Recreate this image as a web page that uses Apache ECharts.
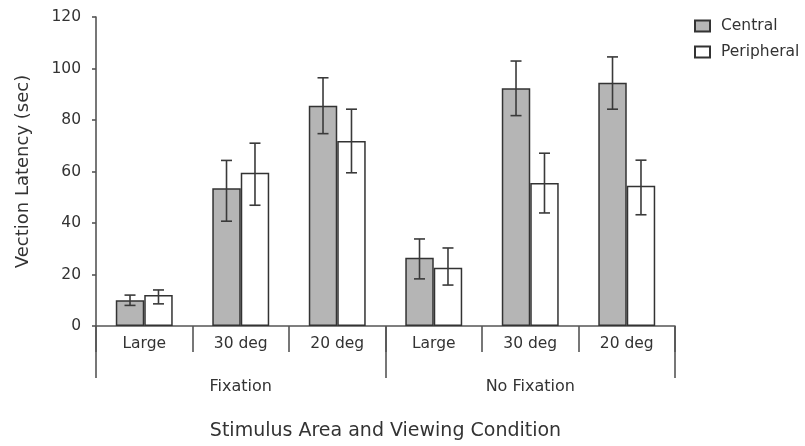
<!DOCTYPE html>
<html>
<head>
<meta charset="utf-8">
<script src="https://cdn.jsdelivr.net/npm/echarts@6/dist/echarts.min.js"></script>
<style>html,body{margin:0;padding:0;background:#fff}#c{width:805px;height:446px}</style>
</head>
<body>
<div id="c"></div>
<script>
const categories = ['Large', '30 deg', '20 deg', 'Large', '30 deg', '20 deg'];
const groups = ['Fixation', 'No Fixation'];
const yTicks = [0, 20, 40, 60, 80, 100, 120];
const centralMean = [10, 53.5, 85.5, 26.5, 92.3, 94.5];
const centralHigh = [12, 64.3, 96.4, 33.8, 102.9, 104.5];
const centralLow = [8, 40.7, 74.7, 18.3, 81.7, 84.2];
const peripheralMean = [12, 59.5, 71.8, 22.6, 55.5, 54.5];
const peripheralHigh = [14, 71, 84.2, 30.3, 67.1, 64.4];
const peripheralLow = [8.6, 46.9, 59.5, 15.9, 43.9, 43.2];

const FONT = 'DejaVu Sans';
const TXT = '#333333';
const BARW = 0.295;

function errData(low, high) {
  return low.map((l, i) => [i, l, high[i]]);
}
function errRender(sign) {
  return function (params, api) {
    const i = api.value(0);
    const lo = api.coord([i, api.value(1)]);
    const hi = api.coord([i, api.value(2)]);
    const off = api.size([1, 0])[0] * BARW / 2 * sign;
    const x = lo[0] + off;
    const cap = 5.5;
    const st = { stroke: '#3a3a3a', lineWidth: 1.6 };
    return {
      type: 'group',
      children: [
        { type: 'line', shape: { x1: x, y1: lo[1], x2: x, y2: hi[1] }, style: st },
        { type: 'line', shape: { x1: x - cap, y1: lo[1], x2: x + cap, y2: lo[1] }, style: st },
        { type: 'line', shape: { x1: x - cap, y1: hi[1], x2: x + cap, y2: hi[1] }, style: st }
      ]
    };
  };
}

const chart = echarts.init(document.getElementById('c'));
chart.setOption({
  animation: false,
  textStyle: { fontFamily: FONT },
  grid: { left: 96, right: 130, top: 17, bottom: 119, containLabel: false },
  legend: {
    data: ['Central', 'Peripheral'],
    orient: 'vertical',
    left: 689, top: 13,
    itemWidth: 15, itemHeight: 11, itemGap: 10,
    icon: 'rect',
    textStyle: { fontFamily: FONT, fontSize: 15.5, lineHeight: 11, color: TXT, padding: [0, 0, 0, 6] }
  },
  xAxis: [
    {
      type: 'category',
      data: categories,
      position: 'bottom',
      axisLine: { lineStyle: { color: '#555', width: 1.6 } },
      axisTick: { show: true, length: 26, interval: 0, lineStyle: { color: '#555', width: 1.6 } },
      axisLabel: { interval: 0, margin: 10, fontSize: 15.5, color: TXT, fontFamily: FONT },
      splitLine: { show: false }
    },
    {
      type: 'category',
      data: groups,
      position: 'bottom',
      axisLine: { show: false },
      axisTick: { show: true, length: 52, interval: 0, lineStyle: { color: '#555', width: 1.6 } },
      axisLabel: { interval: 0, margin: 53, fontSize: 16, color: TXT, fontFamily: FONT },
      name: 'Stimulus Area and Viewing Condition',
      nameLocation: 'middle',
      nameGap: 96,
      nameTextStyle: { fontSize: 19, color: TXT, fontFamily: FONT }
    }
  ],
  yAxis: {
    type: 'value',
    min: yTicks[0], max: yTicks[yTicks.length - 1], interval: 20,
    name: 'Vection Latency (sec)',
    nameLocation: 'middle',
    nameGap: 64,
    nameTextStyle: { fontSize: 18, color: TXT, fontFamily: FONT },
    axisLine: { show: true, lineStyle: { color: '#555', width: 1.6 } },
    axisTick: { show: true, length: 4, lineStyle: { color: '#555', width: 1.6 } },
    axisLabel: { margin: 15, fontSize: 15.5, color: TXT, fontFamily: FONT },
    splitLine: { show: false }
  },
  series: [
    {
      name: 'Central', type: 'bar', data: centralMean,
      barWidth: (BARW * 100) + '%', barGap: '0%',
      itemStyle: { color: '#b5b5b5', borderColor: '#333', borderWidth: 1.5 }
    },
    {
      name: 'Peripheral', type: 'bar', data: peripheralMean,
      barWidth: (BARW * 100) + '%', barGap: '0%',
      itemStyle: { color: '#ffffff', borderColor: '#333', borderWidth: 1.5 }
    },
    {
      name: 'centralErr', type: 'custom', data: errData(centralLow, centralHigh),
      renderItem: errRender(-1), encode: { x: 0, y: [1, 2] }, z: 5
    },
    {
      name: 'peripheralErr', type: 'custom', data: errData(peripheralLow, peripheralHigh),
      renderItem: errRender(1), encode: { x: 0, y: [1, 2] }, z: 5
    }
  ]
});
</script>
</body>
</html>
